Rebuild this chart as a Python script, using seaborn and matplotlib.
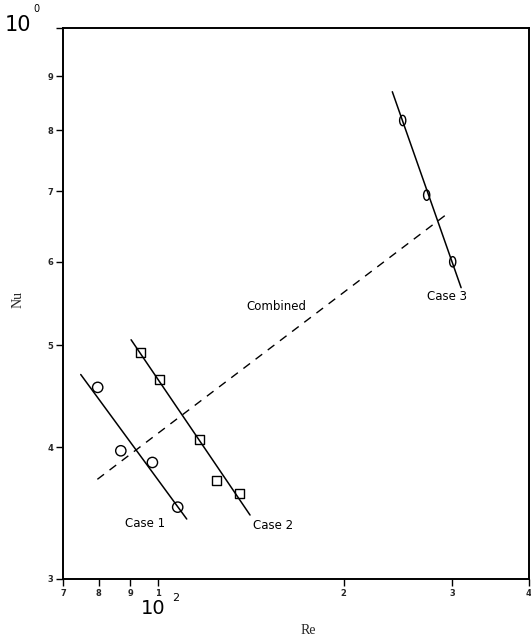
import numpy as np
import pandas as pd
import seaborn as sns
import matplotlib
matplotlib.use("Agg")
import matplotlib.pyplot as plt
from matplotlib.path import Path
from matplotlib.ticker import FixedLocator, FixedFormatter, NullLocator
import matplotlib.transforms as mtransforms

# ---- data ----
case1_re = [79.7, 86.9, 97.8, 107.5]
case1_nu = [4.56, 3.97, 3.87, 3.51]
case2_re = [93.7, 100.4, 116.6, 124.1, 135.7]
case2_nu = [4.92, 4.64, 4.07, 3.72, 3.62]
case3_re = [249.4, 272.8, 300.7]
case3_nu = [8.17, 6.94, 6.00]

# fitted lines (end points)
case1_fit_re = [74.8, 111.2]
case1_fit_nu = [4.69, 3.42]
case2_fit_re = [90.3, 140.9]
case2_fit_nu = [5.06, 3.45]
case3_fit_re = [239.9, 310.3]
case3_fit_nu = [8.70, 5.67]
combined_re = [79.6, 293.3]
combined_nu = [3.73, 6.65]

x_ticks = [70, 80, 90, 100, 200, 300, 400]
x_tick_labels = ["7", "8", "9", "1", "2", "3", "4"]
y_ticks = [3, 4, 5, 6, 7, 8, 9, 10]
y_tick_labels = ["3", "4", "5", "6", "7", "8", "9", ""]

labels = ["Case 1", "Case 2", "Case 3", "Combined"]
label_re = [88.3, 142.5, 273.2, 138.9]
label_nu = [3.39, 3.37, 5.56, 5.44]

# ---- plotting ----
sns.set_style("ticks")
plt.rcParams["font.family"] = ["DejaVu Sans"]

fig = plt.figure(figsize=(5.31, 6.38), dpi=100)
ax = fig.add_axes([63 / 531, 1 - 579 / 638, (529 - 63) / 531, (579 - 28) / 638])

ax.set_xscale("log")
ax.set_yscale("log")
ax.set_xlim(70, 400)
ax.set_ylim(3, 10)

lw = 1.1
for xs, ys in [(case1_fit_re, case1_fit_nu), (case2_fit_re, case2_fit_nu), (case3_fit_re, case3_fit_nu)]:
    sns.lineplot(x=xs, y=ys, color="black", linewidth=lw, ax=ax, sort=False, estimator=None)
sns.lineplot(x=combined_re, y=combined_nu, color="black", linewidth=1.0, ax=ax,
             sort=False, estimator=None, linestyle=(0, (6, 5)))

oval = Path.unit_circle().transformed(mtransforms.Affine2D().scale(0.6, 1.0))

sns.scatterplot(x=case1_re, y=case1_nu, marker="o", s=55, facecolor="none",
                edgecolor="black", linewidth=1.0, ax=ax, zorder=3)
sns.scatterplot(x=case2_re, y=case2_nu, marker="s", s=42, facecolor="none",
                edgecolor="black", linewidth=1.0, ax=ax, zorder=3)
sns.scatterplot(x=case3_re, y=case3_nu, marker=oval, s=55, facecolor="none",
                edgecolor="black", linewidth=1.0, ax=ax, zorder=3)

for t, xx, yy in zip(labels, label_re, label_nu):
    ax.text(xx, yy, t, fontsize=8.5, ha="left", va="center", color="black",
            family=["DejaVu Sans"])

ax.xaxis.set_major_locator(FixedLocator(x_ticks))
ax.xaxis.set_major_formatter(FixedFormatter(x_tick_labels))
ax.xaxis.set_minor_locator(NullLocator())
ax.yaxis.set_major_locator(FixedLocator(y_ticks))
ax.yaxis.set_major_formatter(FixedFormatter(y_tick_labels))
ax.yaxis.set_minor_locator(NullLocator())

ax.tick_params(axis="both", direction="out", length=5, width=1.0, color="black",
               labelsize=6, pad=2)
for lab in ax.get_xticklabels() + ax.get_yticklabels():
    lab.set_fontweight("bold")

for sp in ax.spines.values():
    sp.set_visible(True)
    sp.set_linewidth(1.4)
    sp.set_color("black")

ax.set_xlabel("")
ax.set_ylabel("")

# axis titles
fig.text(308 / 531, 1 - 630 / 638, "Re", ha="center", va="center", fontsize=10,
         family=["Liberation Serif"])
fig.text(18 / 531, 1 - 300 / 638, "Nu", ha="center", va="center", fontsize=10,
         rotation=90, family=["Liberation Serif"])

# decade multipliers
fig.text(153 / 531, 1 - 608 / 638, "10", ha="center", va="center", fontsize=14,
         family=["DejaVu Sans"], color="black")
fig.text(176 / 531, 1 - 598 / 638, "2", ha="center", va="center", fontsize=8,
         family=["DejaVu Sans"], color="black")
fig.text(18 / 531, 1 - 25 / 638, "10", ha="center", va="center", fontsize=15,
         family=["DejaVu Sans"], color="black")
fig.text(36 / 531, 1 - 9 / 638, "0", ha="center", va="center", fontsize=7,
         family=["DejaVu Sans"], color="black")

fig.savefig("out.png", dpi=100)
